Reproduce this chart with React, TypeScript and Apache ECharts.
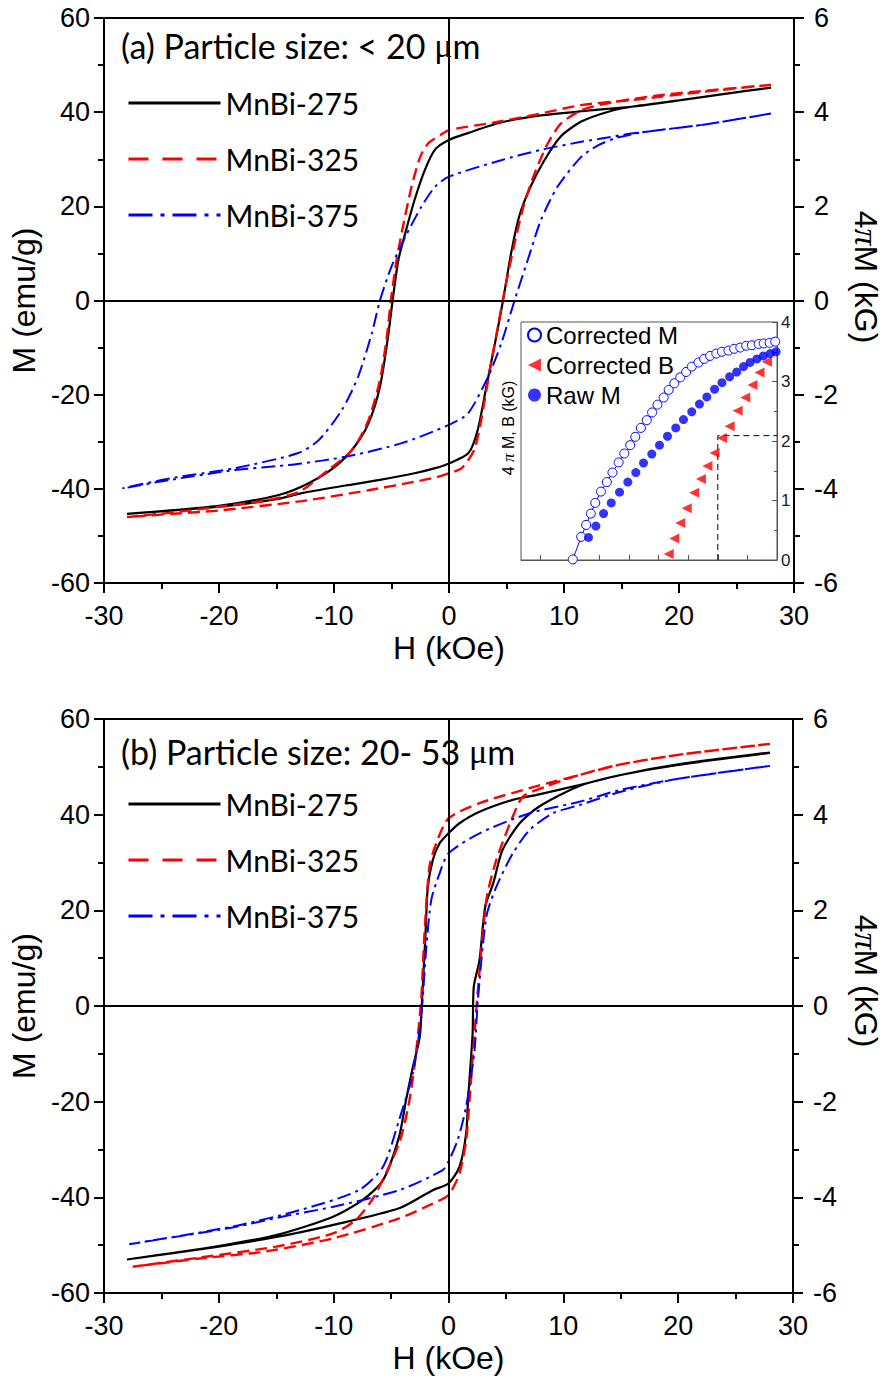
import React, { useEffect, useRef } from "react";
import * as echarts from "echarts";

// ---------- axes ----------
const H_MIN = -30;
const H_MAX = 30;
const H_STEP = 10;
const M_MIN = -60;
const M_MAX = 60;
const M_STEP = 20;
const B_MIN = -6;
const B_MAX = 6;
const B_STEP = 2;

const NAMES = ["MnBi-275", "MnBi-325", "MnBi-375"];
const TITLE_A = "(a) Particle size: < 20 {mu|μ}m";
const TITLE_B = "(b) Particle size: 20- 53 {mu|μ}m";
const X_TITLE = "H (kOe)";
const Y_TITLE = "M (emu/g)";

// ---------- panel (a): < 20 um, [H (kOe), M (emu/g)] ----------
const A275_DOWN = [[28, 45.2], [24, 43.9], [20, 42.5], [16, 41.2], [12, 40.3], [8, 39.3], [4.5, 37.8], [1.7, 35.6], [0, 34.1], [-1.2, 32.1], [-2.1, 27.7], [-3, 21.3], [-3.8, 14.3], [-4.4, 8.6], [-4.9, 0], [-5.3, -7.7], [-6, -18.3], [-7, -26.1], [-8.2, -31], [-9.9, -35.3], [-12.2, -38.8], [-14.8, -41.3], [-20, -43.6], [-28, -45.3]];
const A275_UP = [[-28, -45.3], [-20, -43.8], [-15, -42.2], [-12.8, -40.9], [-9, -39.3], [-6, -38.1], [-3, -36.7], [-1.2, -35.6], [0, -34.6], [1.7, -32.4], [2.5, -27.5], [3.25, -18.3], [4, -9.1], [4.7, 0], [5.4, 10], [6.1, 17.8], [7.1, 24.2], [8.3, 29.8], [9.7, 34.8], [11.5, 38], [14, 40.2], [16, 41.2], [20, 42.5], [24, 43.9], [28, 45.2]];
const A325_DOWN = [[28, 45.8], [22, 44.3], [16, 42.6], [11.5, 41.5], [7.4, 39.4], [3.4, 37.6], [0, 36.2], [-0.65, 35.3], [-1.8, 33.4], [-2.5, 30.5], [-3.25, 24.2], [-4, 15.7], [-4.55, 8.6], [-5.05, 0], [-5.4, -7.7], [-6, -16.9], [-7, -25.4], [-8.4, -31.7], [-10.5, -36], [-13, -40.6], [-16, -42.5], [-20, -43.8], [-24, -45], [-28, -46]];
const A325_UP = [[-28, -46], [-24, -45.3], [-20, -44.6], [-12.8, -42.6], [-7, -40.3], [-3, -38.5], [-1.2, -37.6], [0, -36.7], [1.1, -35.6], [2.2, -31.7], [2.8, -25.4], [3.55, -14.8], [4.25, -5.6], [4.85, 2.2], [5.7, 12.1], [6.55, 20.6], [7.45, 27], [8.6, 33.4], [9.75, 37.6], [11.5, 40.4], [14, 42], [18, 43.5], [22, 44.5], [28, 45.8]];
const A375_DOWN = [[28, 39.7], [22, 37.3], [16, 35.5], [13, 34.3], [11.5, 33.7], [8, 32], [4.55, 29.8], [0, 26.3], [-1.2, 24.2], [-2.4, 19.9], [-3.8, 13.5], [-5, 7.2], [-6, 0], [-6.7, -6.9], [-7.9, -16.2], [-9.3, -23.2], [-11.3, -29.6], [-13.1, -32.4], [-18.6, -35.6], [-24.3, -37.8], [-28.4, -39.9]];
const A375_UP = [[-28.4, -39.9], [-24, -38], [-18.6, -36], [-15, -35.2], [-12.8, -34.6], [-9, -33.2], [-4.1, -30.3], [0, -26.4], [1.65, -24], [3.4, -16.2], [4.55, -9.1], [5.7, 0], [6.85, 8.6], [8, 17.1], [9.45, 24.2], [11.5, 30.5], [13, 33], [14.5, 34.5], [17, 35.8], [22, 37.3], [28, 39.7]];

// ---------- panel (b): 20-53 um ----------
const B275_DOWN = [[28, 52.9], [20, 50.4], [15, 48.3], [11.4, 46.2], [7.6, 44.1], [5.6, 43.1], [2.7, 40.6], [0.96, 38.2], [0, 36.1], [-0.78, 34], [-1.37, 30.5], [-1.8, 24.9], [-2, 15.2], [-2.3, 1.3], [-2.5, -6.4], [-3.1, -12.7], [-3.7, -19.7], [-4.3, -27.3], [-5.7, -36.4], [-7.5, -40.6], [-10.1, -44.1], [-15, -47.9], [-20.3, -50.3], [-28, -53]];
const B275_UP = [[-28, -53], [-20.3, -50.4], [-15, -48.3], [-10.1, -45.8], [-4.3, -42.3], [-1.37, -38.5], [0, -37.1], [0.96, -33.6], [1.54, -26.6], [1.7, -19.7], [2.1, -5.7], [2.2, 4], [2.7, 9.6], [3.2, 20.8], [3.9, 25.7], [4.7, 32.6], [6.2, 38.2], [7.9, 41.7], [11.4, 46], [15, 48.3], [20, 50.5], [28, 53]];
const B325_DOWN = [[28, 54.8], [20, 52.5], [15, 50.5], [11.4, 48.3], [7.6, 45.9], [2.7, 42.4], [0, 39.2], [-1.07, 34], [-1.66, 29.1], [-2.09, 15.2], [-2.38, 1.3], [-2.8, -9.2], [-3.4, -19.7], [-4.3, -28.7], [-6.5, -39.9], [-8.05, -44.7], [-10, -47.5], [-15, -50.3], [-21.7, -52.6], [-27.5, -54.5]];
const B325_UP = [[-27.5, -54.5], [-21.7, -52.8], [-15.9, -51.3], [-10.1, -48.6], [-4.3, -44.4], [-1.37, -41.3], [0, -39.5], [0.96, -35], [1.54, -28], [1.83, -19.7], [2.27, -5.7], [2.56, 3.3], [3.3, 22.2], [4.16, 30.5], [5.6, 39.6], [6.5, 43.8], [8.5, 45.9], [11.4, 48.3], [15, 50.5], [20, 52.5], [28, 54.8]];
const B375_DOWN = [[28, 50.2], [20, 47.5], [15, 45.2], [11.4, 42.7], [7.06, 40.3], [2.7, 36.1], [0, 31.9], [-0.78, 27.7], [-1.5, 22.2], [-1.95, 11.7], [-2.38, -2.2], [-3.1, -14], [-4.3, -23.8], [-5.7, -33.6], [-7.8, -38.5], [-13, -42.7], [-18.8, -46.1], [-27.8, -49.8]];
const B375_UP = [[-27.8, -49.8], [-18.8, -46.3], [-14.4, -44], [-10.1, -42], [-4.3, -38.5], [-0.5, -34.3], [0, -32.5], [0.8, -28], [1.54, -21], [2.27, -9.2], [2.56, 1.3], [3.3, 18.7], [4.16, 24.9], [5.6, 31.9], [7.06, 36.8], [9.1, 40.3], [11.4, 42], [15, 44.8], [20, 47.5], [28, 50.2]];

// ---------- inset: second quadrant (x in tick units, y in kG) ----------
const INSET_X_MIN = -0.65;
const INSET_X_MAX = 8;
const INSET_X_TICKS = [0, 1, 2, 3, 4, 5, 6, 7, 8];
const INSET_Y_MIN = 0;
const INSET_Y_MAX = 4;
const INSET_NAMES = ["Corrected M", "Corrected B", "Raw M"];
const CORR_M = [[1.1, 0.01], [1.385, 0.39], [1.55, 0.59], [1.71, 0.78], [1.86, 0.96], [2.05, 1.15], [2.25, 1.31], [2.44, 1.47], [2.65, 1.64], [2.84, 1.79], [3.04, 1.93], [3.21, 2.07], [3.4, 2.22], [3.6, 2.35], [3.78, 2.48], [3.96, 2.61], [4.17, 2.73], [4.34, 2.86], [4.53, 2.97], [4.73, 3.07], [4.93, 3.16], [5.12, 3.25], [5.35, 3.32], [5.54, 3.38], [5.74, 3.43], [5.95, 3.47], [6.14, 3.5], [6.36, 3.52], [6.55, 3.55], [6.76, 3.57], [6.96, 3.6], [7.15, 3.61], [7.38, 3.63], [7.55, 3.64], [7.75, 3.65], [7.94, 3.67]];
const RAW_M = [[1.63, 0.38], [1.88, 0.57], [2.14, 0.78], [2.4, 0.96], [2.68, 1.14], [2.96, 1.31], [3.23, 1.47], [3.49, 1.63], [3.77, 1.78], [4.03, 1.93], [4.3, 2.08], [4.58, 2.22], [4.84, 2.36], [5.12, 2.49], [5.38, 2.62], [5.63, 2.74], [5.89, 2.87], [6.14, 2.98], [6.4, 3.08], [6.64, 3.16], [6.87, 3.25], [7.09, 3.32], [7.32, 3.38], [7.54, 3.43], [7.77, 3.47], [7.97, 3.5]];
const CORR_B = [[4.34, 0.1], [4.53, 0.36], [4.73, 0.62], [4.95, 0.87], [5.2, 1.13], [5.43, 1.36], [5.65, 1.58], [5.89, 1.8], [6.14, 2.05], [6.4, 2.25], [6.67, 2.51], [6.93, 2.73], [7.17, 2.94], [7.41, 3.15], [7.66, 3.33]];
const GUIDE_H = 6.0;
const GUIDE_B = 2.09;

const SANS = "Arial, Liberation Sans, Helvetica, sans-serif";
const LEG = "Lato, Open Sans, sans-serif";
const SERIF = "Liberation Serif, Times New Roman, serif";
const BLACK = "#000000";
const RED = "#ff0000";
const BLUE = "#0000ff";

const STYLES = [
  { color: BLACK, width: 2.2, type: "solid" as any },
  { color: RED, width: 2.4, type: [12, 6] as any },
  { color: BLUE, width: 2, type: [14, 5, 3, 5] as any },
];

function bottomX(grid: number) {
  return {
    type: "value",
    gridIndex: grid,
    position: "bottom",
    min: H_MIN,
    max: H_MAX,
    interval: H_STEP,
    axisLine: { show: true, onZero: false, lineStyle: { color: BLACK, width: 2 } },
    axisTick: { show: true, inside: false, length: 10, lineStyle: { color: BLACK, width: 2 } },
    minorTick: { show: true, splitNumber: 2, length: 6, lineStyle: { color: BLACK, width: 2 } },
    splitLine: { show: false },
    axisLabel: { color: BLACK, fontFamily: SANS, fontSize: 27, margin: 19 },
    name: X_TITLE,
    nameLocation: "middle",
    nameGap: 49,
    nameTextStyle: { color: BLACK, fontFamily: SANS, fontSize: 32 },
  };
}
function topX(grid: number) {
  return {
    type: "value",
    gridIndex: grid,
    position: "top",
    min: H_MIN,
    max: H_MAX,
    interval: H_STEP,
    axisLine: { show: true, onZero: false, lineStyle: { color: BLACK, width: 2 } },
    axisTick: { show: false },
    axisLabel: { show: false },
    splitLine: { show: false },
  };
}
function leftY(grid: number) {
  return {
    type: "value",
    gridIndex: grid,
    position: "left",
    min: M_MIN,
    max: M_MAX,
    interval: M_STEP,
    axisLine: { show: true, onZero: false, lineStyle: { color: BLACK, width: 2 } },
    axisTick: { show: true, inside: false, length: 10, lineStyle: { color: BLACK, width: 2 } },
    minorTick: { show: true, splitNumber: 2, length: 6, lineStyle: { color: BLACK, width: 2 } },
    splitLine: { show: false },
    axisLabel: { color: BLACK, fontFamily: SANS, fontSize: 27, margin: 14 },
    name: Y_TITLE,
    nameLocation: "middle",
    nameGap: 58,
    nameTextStyle: { color: BLACK, fontFamily: SANS, fontSize: 32 },
  };
}
function rightY(grid: number) {
  return {
    type: "value",
    gridIndex: grid,
    position: "right",
    min: B_MIN,
    max: B_MAX,
    interval: B_STEP,
    axisLine: { show: true, onZero: false, lineStyle: { color: BLACK, width: 2 } },
    axisTick: { show: true, inside: false, length: 10, lineStyle: { color: BLACK, width: 2 } },
    minorTick: { show: true, splitNumber: 2, length: 6, lineStyle: { color: BLACK, width: 2 } },
    splitLine: { show: false },
    axisLabel: { color: BLACK, fontFamily: SANS, fontSize: 27, margin: 20 },
  };
}

function loop(name: string, down: number[][], up: number[][], axis: number, idx: number, zeroLines: boolean) {
  const s: any = {
    type: "line",
    name,
    xAxisIndex: axis,
    yAxisIndex: axis,
    data: down.concat(up.slice(1)),
    symbol: "none",
    smooth: 0.25,
    lineStyle: STYLES[idx],
    itemStyle: { color: STYLES[idx].color },
    z: 3,
  };
  if (zeroLines) {
    s.markLine = {
      silent: true,
      symbol: ["none", "none"],
      label: { show: false },
      lineStyle: { color: BLACK, width: 2, type: "solid" },
      data: [{ xAxis: 0 }, { yAxis: 0 }],
    };
  }
  return s;
}

function legendFor(top: number) {
  return {
    orient: "vertical",
    left: 127,
    top,
    padding: 0,
    itemWidth: 92,
    itemHeight: 24,
    itemGap: 24,
    selectedMode: false,
    itemStyle: { color: "rgba(0,0,0,0)", borderWidth: 0, opacity: 0 },
    textStyle: { color: BLACK, fontFamily: LEG, fontSize: 30, lineHeight: 32 },
    data: [
      { name: NAMES[0], lineStyle: { width: 3 } },
      { name: NAMES[1], lineStyle: { width: 3, type: [20, 14] } },
      { name: NAMES[2], lineStyle: { width: 3, type: [24, 8, 4, 8] } },
    ],
  };
}

function titleFor(text: string, top: number) {
  return {
    text,
    left: 121,
    top,
    padding: 0,
    textStyle: {
      color: BLACK,
      fontFamily: LEG,
      fontSize: 34,
      fontWeight: "normal",
      lineHeight: 40,
      rich: { mu: { fontFamily: SERIF, fontSize: 34, lineHeight: 40, color: BLACK } },
    },
  };
}

function rightTitle(y: number) {
  return {
    type: "text",
    x: 866,
    y,
    rotation: -Math.PI / 2,
    style: {
      text: "{n|4}{p|π}{n|M (kG)}",
      align: "center",
      verticalAlign: "middle",
      rich: {
        n: { fontFamily: SANS, fontSize: 32, fill: BLACK },
        p: { fontFamily: SERIF, fontStyle: "italic", fontSize: 34, fill: BLACK },
      },
    },
  };
}

export default function App() {
  const ref = useRef<HTMLDivElement>(null);
  useEffect(() => {
    if (!ref.current) return;
    const chart = echarts.init(ref.current, null, { renderer: "svg" });
    const option: any = {
      animation: false,
      backgroundColor: "#ffffff",
      title: [titleFor(TITLE_A, 25), titleFor(TITLE_B, 731)],
      legend: [
        legendFor(87),
        legendFor(788),
        {
          orient: "vertical",
          left: 527,
          top: 322,
          padding: 0,
          itemWidth: 13,
          itemHeight: 13,
          itemGap: 4,
          selectedMode: false,
          z: 14,
          textStyle: { color: BLACK, fontFamily: SANS, fontSize: 24, lineHeight: 26 },
          data: [
            { name: INSET_NAMES[0], icon: "circle" },
            { name: INSET_NAMES[1], icon: "path://M0,5L10,0L10,10Z" },
            { name: INSET_NAMES[2], icon: "circle" },
          ],
        },
      ],
      grid: [
        { left: 101, top: 18, width: 693, height: 565 },
        { left: 104, top: 719, width: 689, height: 574 },
        {
          left: 521,
          top: 322,
          width: 256,
          height: 238,
          show: true,
          backgroundColor: "#ffffff",
          borderColor: "#555555",
          borderWidth: 1,
          z: 10,
        },
      ],
      xAxis: [
        bottomX(0),
        topX(0),
        bottomX(1),
        topX(1),
        {
          type: "value",
          gridIndex: 2,
          min: INSET_X_MIN,
          max: INSET_X_MAX,
          z: 11,
          axisLine: { show: true, onZero: false, lineStyle: { color: "#555555", width: 1 } },
          axisTick: { show: true, inside: true, length: 5, customValues: INSET_X_TICKS, lineStyle: { color: "#555555", width: 1 } },
          axisLabel: { show: false },
          splitLine: { show: false },
        },
      ],
      yAxis: [
        leftY(0),
        rightY(0),
        leftY(1),
        rightY(1),
        {
          type: "value",
          gridIndex: 2,
          position: "right",
          min: INSET_Y_MIN,
          max: INSET_Y_MAX,
          interval: 1,
          z: 11,
          axisLine: { show: true, onZero: false, lineStyle: { color: "#555555", width: 1 } },
          axisTick: { show: true, inside: true, length: 5, lineStyle: { color: "#555555", width: 1 } },
          minorTick: { show: true, splitNumber: 2, length: 3, lineStyle: { color: "#555555", width: 1 } },
          axisLabel: { color: "#222222", fontFamily: SANS, fontSize: 17, margin: 4 },
          splitLine: { show: false },
        },
      ],
      series: [
        loop(NAMES[0], A275_DOWN, A275_UP, 0, 0, true),
        loop(NAMES[1], A325_DOWN, A325_UP, 0, 1, false),
        loop(NAMES[2], A375_DOWN, A375_UP, 0, 2, false),
        loop(NAMES[0], B275_DOWN, B275_UP, 2, 0, true),
        loop(NAMES[1], B325_DOWN, B325_UP, 2, 1, false),
        loop(NAMES[2], B375_DOWN, B375_UP, 2, 2, false),
        {
          type: "line",
          name: "guide",
          xAxisIndex: 4,
          yAxisIndex: 4,
          data: [[GUIDE_H, INSET_Y_MIN], [GUIDE_H, GUIDE_B], [INSET_X_MAX, GUIDE_B]],
          symbol: "none",
          lineStyle: { color: BLACK, width: 1, type: [6, 4] },
          z: 12,
        },
        {
          type: "line",
          name: INSET_NAMES[0],
          xAxisIndex: 4,
          yAxisIndex: 4,
          data: CORR_M,
          symbol: "circle",
          symbolSize: 9,
          lineStyle: { color: BLUE, width: 1 },
          itemStyle: { color: "#ffffff", borderColor: BLUE, borderWidth: 1 },
          z: 13,
        },
        {
          type: "scatter",
          name: INSET_NAMES[1],
          xAxisIndex: 4,
          yAxisIndex: 4,
          data: CORR_B,
          symbol: "path://M0,5L10,0L10,10Z",
          symbolSize: 10,
          itemStyle: { color: RED },
          z: 13,
        },
        {
          type: "scatter",
          name: INSET_NAMES[2],
          xAxisIndex: 4,
          yAxisIndex: 4,
          data: RAW_M,
          symbol: "circle",
          symbolSize: 9,
          itemStyle: { color: BLUE },
          z: 13,
        },
      ],
      graphic: [
        rightTitle(277),
        rightTitle(981),
        {
          type: "text",
          x: 508,
          y: 428,
          rotation: Math.PI / 2,
          style: {
            text: "4 {p|π} M, B (kG)",
            align: "center",
            verticalAlign: "middle",
            fontFamily: SANS,
            fontSize: 16,
            fill: BLACK,
            rich: {
              p: { fontFamily: SERIF, fontStyle: "italic", fontSize: 17, fill: BLACK },
            },
          },
        },
      ],
    };
    chart.setOption(option);
    return () => chart.dispose();
  }, []);
  return <div ref={ref} style={{ position: "absolute", left: 0, top: 0, width: 884, height: 1384 }} />;
}
